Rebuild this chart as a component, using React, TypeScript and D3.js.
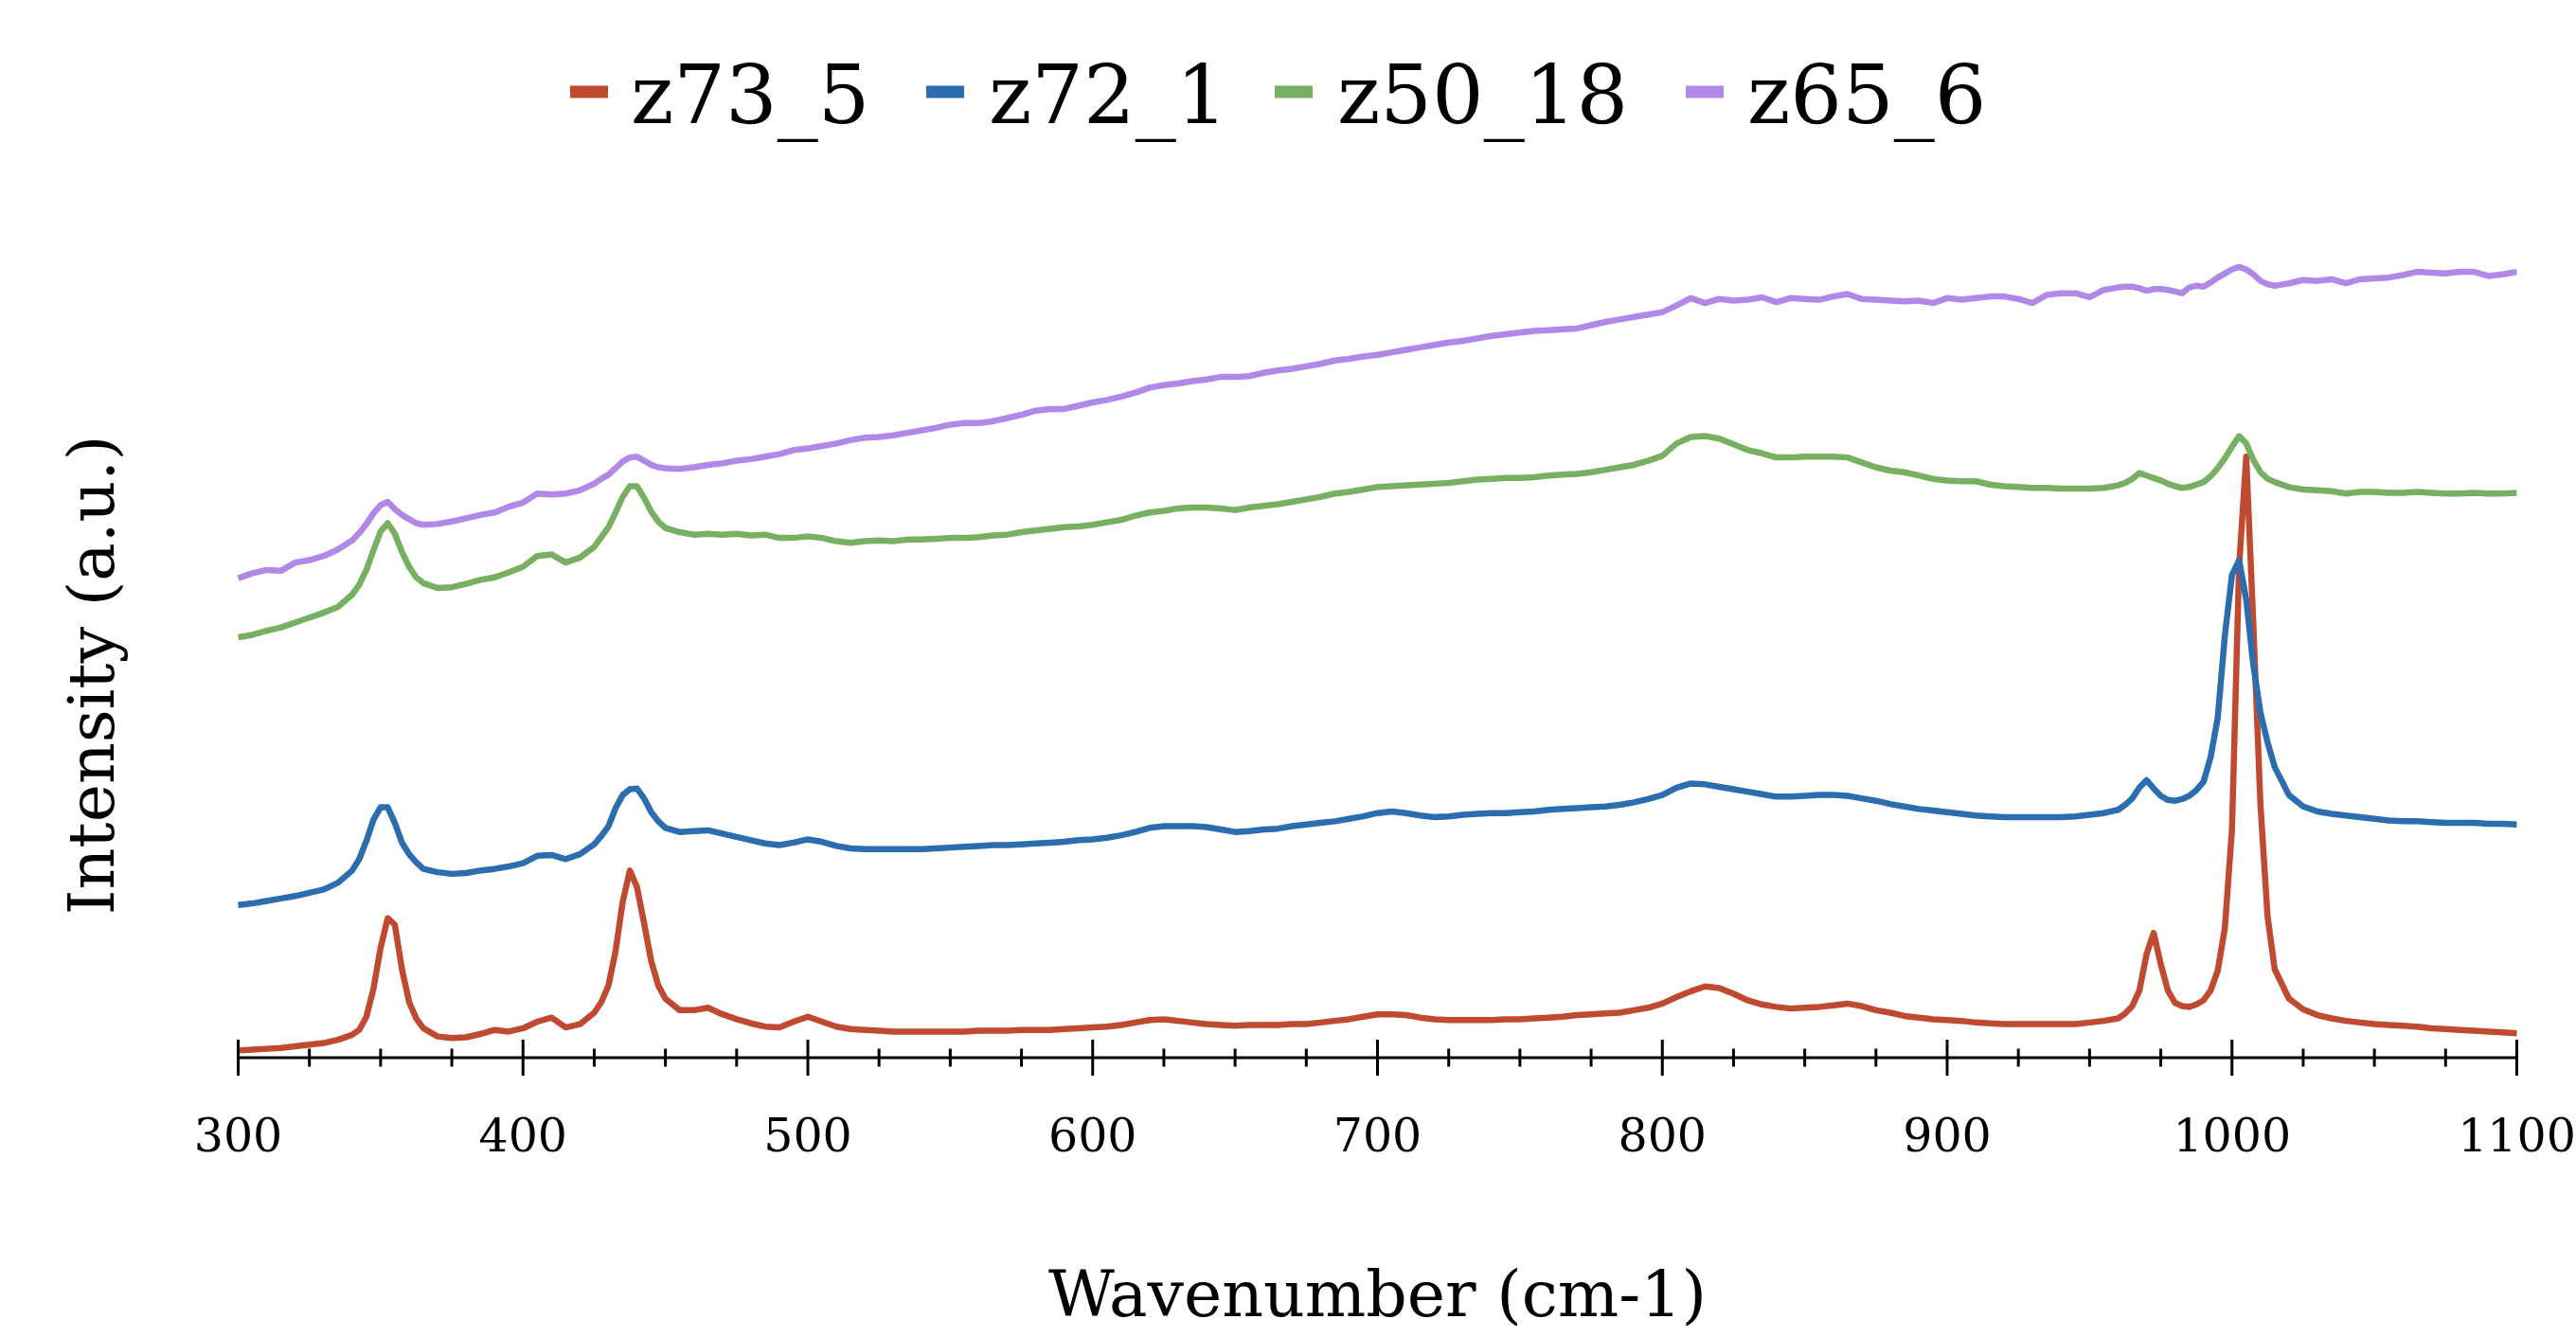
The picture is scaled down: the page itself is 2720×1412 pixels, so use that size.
import React from "react";
import * as d3 from "d3";

type Pt = [number, number];

const seriesNames = ["z73_5", "z72_1", "z50_18", "z65_6"];
const seriesColors = ["#BF4A30", "#2B6DAE", "#78B061", "#B089E8"];

const xDomain: [number, number] = [300, 1100];
const majorTicks = [300, 400, 500, 600, 700, 800, 900, 1000, 1100];
const minorStep = 25;

const xTitle = "Wavenumber (cm-1)";
const yTitle = "Intensity (a.u.)";

const z73_5: Pt[] = [[300,5.5],[305,6],[310,6.5],[315,7],[320,8],[325,9],[330,10],[335,12],[340,15],[342.5,18],[345,26],[347.5,43],[350,68],[352.5,86],[355,82],[357.5,55],[360,35],[362.5,25],[365,19],[370,14],[375,13],[380,13.5],[385,15.5],[390,18],[395,17],[400,19],[405,23],[410,25.5],[415,19.5],[420,21.5],[425,28.5],[427.5,35],[430,45],[432.5,66],[435,96],[437.5,115],[440,105],[442.5,83],[445,60],[447.5,45],[450,37],[455,30],[460,30],[465,31.5],[470,27.5],[475,24.5],[480,22],[485,20],[490,19.5],[495,23],[500,26],[505,23],[510,20],[515,18.5],[520,18],[525,17.5],[530,17],[535,17],[540,17],[545,17],[550,17],[555,17],[560,17.5],[565,17.5],[570,17.5],[575,18],[580,18],[585,18],[590,18.5],[595,19],[600,19.5],[605,20],[610,21],[615,22.5],[620,24],[625,24.5],[630,23.5],[635,22.5],[640,21.5],[645,21],[650,20.5],[655,21],[660,21],[665,21],[670,21.5],[675,21.5],[680,22.5],[685,23.5],[690,24.5],[695,26],[700,27.5],[705,27.5],[710,27],[715,25.5],[720,24.5],[725,24],[730,24],[735,24],[740,24],[745,24.5],[750,24.5],[755,25],[760,25.5],[765,26],[770,27],[775,27.5],[780,28],[785,28.5],[790,30],[795,31.5],[800,34],[805,38],[810,41.5],[815,44.5],[820,43.5],[825,40],[830,36],[835,33.5],[840,32],[845,31],[850,31.5],[855,32],[860,33],[865,34],[870,32.5],[875,30],[880,28.5],[885,26.5],[890,25.5],[895,24.5],[900,24],[905,23.5],[910,22.5],[915,22],[920,21.5],[925,21.5],[930,21.5],[935,21.5],[940,21.5],[945,21.5],[950,22.5],[955,23.5],[960,25],[962.5,28],[965,32.5],[967.5,42],[970,64],[972.5,77],[975,58],[977.5,42],[980,34.5],[982.5,32.5],[985,32],[987.5,33.5],[990,36],[992.5,42],[995,54],[997.5,80],[1000,140],[1002.5,300],[1005,367],[1007.5,265],[1010,155],[1012.5,87],[1015,55],[1020,37],[1025,30.5],[1030,27],[1035,25],[1040,23.5],[1045,22.5],[1050,21.5],[1055,21],[1060,20.5],[1065,20],[1070,19],[1075,18.5],[1080,18],[1085,17.5],[1090,17],[1095,16.5],[1100,16]];

const z72_1: Pt[] = [[300,94],[305,95],[310,96.5],[315,98],[320,99.5],[325,101.5],[330,103.5],[335,107.5],[340,115],[342.5,122],[345,133],[347.5,146],[350,153.5],[352.5,153.5],[355,144],[357.5,132],[360,125],[362.5,120],[365,116],[370,114],[375,113],[380,113.5],[385,115],[390,116],[395,117.5],[400,119.5],[405,124],[410,124.5],[415,122],[420,125],[425,131],[427.5,136],[430,142],[432.5,153],[435,161],[437.5,164.5],[440,165],[442.5,159],[445,150.5],[447.5,145],[450,141],[455,138.5],[460,139],[465,139.5],[470,137.5],[475,135.5],[480,133.5],[485,131.5],[490,130.5],[495,132],[500,134],[505,132.5],[510,130],[515,128.5],[520,128],[525,128],[530,128],[535,128],[540,128],[545,128.5],[550,129],[555,129.5],[560,130],[565,130.5],[570,130.5],[575,131],[580,131.5],[585,132],[590,132.5],[595,133.5],[600,134],[605,135],[610,136.5],[615,138.5],[620,141],[625,142],[630,142],[635,142],[640,141.5],[645,140],[650,138.5],[655,139],[660,140],[665,140.5],[670,142],[675,143],[680,144],[685,145],[690,146.5],[695,148],[700,150],[705,151],[710,150],[715,148.5],[720,147.5],[725,148],[730,149],[735,149.5],[740,150],[745,150],[750,150.5],[755,151],[760,152],[765,152.5],[770,153],[775,153.5],[780,154],[785,155],[790,156.5],[795,158.5],[800,161],[805,165.5],[810,168],[815,167.5],[820,166],[825,164.5],[830,163],[835,161.5],[840,160],[845,160],[850,160.5],[855,161],[860,161],[865,160.5],[870,159],[875,157.5],[880,155.5],[885,154],[890,152.5],[895,151.5],[900,150.5],[905,149.5],[910,148.5],[915,148],[920,147.5],[925,147.5],[930,147.5],[935,147.5],[940,147.5],[945,148],[950,149],[955,150],[960,152],[962.5,155],[965,159],[967.5,165.5],[970,170],[972.5,165],[975,160.5],[977.5,158],[980,157.5],[982.5,158.5],[985,160.5],[987.5,164],[990,169],[992.5,184],[995,208],[997.5,258],[1000,295],[1002.5,304],[1005,280],[1007.5,240],[1010,211],[1012.5,193],[1015,178],[1020,161],[1025,154],[1030,151],[1035,149.5],[1040,148.5],[1045,147.5],[1050,146.5],[1055,145.5],[1060,145],[1065,145],[1070,144.5],[1075,144],[1080,144],[1085,144],[1090,143.5],[1095,143.5],[1100,143]];

const z50_18: Pt[] = [[300,257],[305,258.5],[310,261],[315,263],[320,266],[325,269],[330,272],[335,275.5],[340,283],[342.5,289],[345,298],[347.5,310],[350,321.5],[352.5,326.5],[355,320],[357.5,309],[360,300],[362.5,293.5],[365,290],[370,287],[375,287.5],[380,289.5],[385,292],[390,293.5],[395,296.5],[400,300],[405,306.5],[410,307.5],[415,302.5],[420,305.5],[425,312],[427.5,318],[430,324],[432.5,333],[435,342.5],[437.5,349],[440,349],[442.5,342],[445,333.5],[447.5,327.5],[450,323.5],[455,321],[460,319.5],[465,320],[470,319.5],[475,320],[480,319],[485,319.5],[490,317.5],[495,317.5],[500,318.5],[505,317.5],[510,315.5],[515,314.5],[520,315.5],[525,316],[530,315.5],[535,316.5],[540,316.5],[545,317],[550,317.5],[555,317.5],[560,318],[565,319],[570,319.5],[575,321],[580,322],[585,323],[590,324],[595,324.5],[600,325.5],[605,327],[610,328.5],[615,331],[620,333],[625,334],[630,335.5],[635,336],[640,336],[645,335.5],[650,334.5],[655,336],[660,337],[665,338],[670,339.5],[675,341],[680,342.5],[685,344.5],[690,345.5],[695,347],[700,348.5],[705,349],[710,349.5],[715,350],[720,350.5],[725,351],[730,352],[735,353],[740,353.5],[745,354],[750,354],[755,354.5],[760,355.5],[765,356],[770,356.5],[775,357.5],[780,359],[785,360.5],[790,362],[795,364.5],[800,367.5],[805,375],[810,379],[815,379.5],[820,378],[825,374.5],[830,371],[835,369],[840,366.5],[845,366.5],[850,367],[855,367],[860,367],[865,366.5],[870,363.5],[875,360.5],[880,358.5],[885,357.5],[890,355.5],[895,353.5],[900,352.5],[905,352],[910,352],[915,350],[920,349],[925,348.5],[930,348],[935,348],[940,347.5],[945,347.5],[950,347.5],[955,348],[960,349.5],[962.5,351],[965,353.5],[967.5,357],[970,355.5],[972.5,354],[975,352.5],[977.5,350.5],[980,349],[982.5,348],[985,348.5],[987.5,350],[990,351.5],[992.5,355],[995,360],[997.5,366],[1000,373],[1002.5,379.5],[1005,375],[1007.5,365],[1010,357.5],[1012.5,353.5],[1015,351.5],[1020,348.5],[1025,347],[1030,346.5],[1035,346],[1040,344.5],[1045,345.5],[1050,345.5],[1055,345],[1060,345],[1065,345.5],[1070,345],[1075,344.5],[1080,344.5],[1085,345],[1090,344.5],[1095,344.5],[1100,345]];

const z65_6: Pt[] = [[300,293],[305,296],[310,298],[315,297.5],[320,302.5],[325,304],[330,306.5],[335,310.5],[340,316],[342.5,320.5],[345,326],[347.5,332.5],[350,337.5],[352.5,339.5],[355,335],[357.5,331.5],[360,329],[362.5,326.5],[365,325.5],[370,326],[375,327.5],[380,329.5],[385,331.5],[390,333],[395,336.5],[400,339],[405,344.5],[410,344],[415,344.5],[420,346.5],[425,350.5],[427.5,353.5],[430,356],[432.5,360],[435,364],[437.5,366.5],[440,367],[442.5,364.5],[445,362],[447.5,360.5],[450,360],[455,359.5],[460,360.5],[465,362],[470,363],[475,364.5],[480,365.5],[485,367],[490,368.5],[495,371],[500,372],[505,373.5],[510,375],[515,377],[520,378.5],[525,379],[530,380],[535,381.5],[540,383],[545,384.5],[550,386.5],[555,387.5],[560,387.5],[565,388.5],[570,390.5],[575,392.5],[580,395],[585,396],[590,396],[595,398],[600,400],[605,401.5],[610,403.5],[615,406],[620,409],[625,410.5],[630,411.5],[635,413],[640,414],[645,415.5],[650,415.5],[655,416],[660,418],[665,419.5],[670,420.5],[675,422],[680,423.5],[685,425.5],[690,426.5],[695,428],[700,429],[705,430.5],[710,432],[715,433.5],[720,435],[725,436.5],[730,437.5],[735,439],[740,440.5],[745,441.5],[750,442.5],[755,443.5],[760,444],[765,444.5],[770,445],[775,447],[780,449],[785,450.5],[790,452],[795,453.5],[800,455],[805,459],[810,463.5],[815,460.5],[820,463],[825,462],[830,462.5],[835,464],[840,461],[845,463.5],[850,463],[855,462.5],[860,464.5],[865,466],[870,463],[875,462.5],[880,462],[885,461.5],[890,462],[895,460.5],[900,463.5],[905,462.5],[910,463.5],[915,464.5],[920,464.5],[925,463],[930,460.5],[935,465.5],[940,466.5],[945,466.5],[950,464],[955,468.5],[960,470],[962.5,470.5],[965,470.5],[967.5,469.5],[970,468],[972.5,469],[975,469],[977.5,468.5],[980,467.5],[982.5,466.5],[985,470],[987.5,471],[990,470.5],[992.5,473],[995,476],[997.5,478.5],[1000,481],[1002.5,482.5],[1005,481],[1007.5,478],[1010,474],[1012.5,472],[1015,471],[1020,472.5],[1025,474.5],[1030,474],[1035,475],[1040,472.5],[1045,475],[1050,475.5],[1055,476],[1060,477.5],[1065,479.5],[1070,479],[1075,478.5],[1080,479.5],[1085,479.5],[1090,477],[1095,478],[1100,479.5]];

const seriesData: Pt[][] = [z73_5, z72_1, z50_18, z65_6];

export default function App() {
  const W = 2720;
  const H = 1412;
  const plotLeft = 251.5;
  const plotRight = 2657.5;
  const axisY = 1117;

  const x = d3.scaleLinear().domain(xDomain).range([plotLeft, plotRight]);
  const y = d3.scaleLinear().domain([0, 645]).range([1118.9, 0]);
  const line = d3
    .line<Pt>()
    .x((d) => x(d[0]))
    .y((d) => y(d[1]));

  const minorTicks = d3
    .range(xDomain[0], xDomain[1] + 1, minorStep)
    .filter((v) => !majorTicks.includes(v));

  const font = "'DejaVu Serif', Georgia, serif";

  const legendMarkerX = [602, 978, 1346, 1780];
  const legendTextX = [666, 1044, 1412, 1845];

  return (
    <svg
      width={W}
      height={H}
      viewBox={`0 0 ${W} ${H}`}
      style={{ position: "absolute", left: 0, top: 0, background: "#fff" }}
    >
      <rect x={0} y={0} width={W} height={H} fill="#fff" />

      {/* Legend */}
      {seriesNames.map((name, i) => (
        <g key={name}>
          <rect
            x={legendMarkerX[i]}
            y={90.5}
            width={40}
            height={13}
            fill={seriesColors[i]}
          />
          <text
            x={legendTextX[i]}
            y={130}
            fontFamily={font}
            fontSize={86}
            fill="#000"
          >
            {name}
          </text>
        </g>
      ))}

      {/* Series */}
      {seriesData.map((d, i) => (
        <path
          key={seriesNames[i]}
          d={line(d) || ""}
          fill="none"
          stroke={seriesColors[i]}
          strokeWidth={6.5}
          strokeLinejoin="round"
        />
      ))}

      {/* X axis */}
      <line
        x1={x(xDomain[0])}
        x2={x(xDomain[1])}
        y1={axisY}
        y2={axisY}
        stroke="#000"
        strokeWidth={3.2}
      />
      {majorTicks.map((t) => (
        <line
          key={"M" + t}
          x1={x(t)}
          x2={x(t)}
          y1={axisY - 19}
          y2={axisY + 19}
          stroke="#000"
          strokeWidth={3}
        />
      ))}
      {minorTicks.map((t) => (
        <line
          key={"m" + t}
          x1={x(t)}
          x2={x(t)}
          y1={axisY - 9.5}
          y2={axisY + 9.5}
          stroke="#000"
          strokeWidth={3}
        />
      ))}
      {majorTicks.map((t) => (
        <text
          key={"L" + t}
          x={x(t)}
          y={1216}
          textAnchor="middle"
          fontFamily={font}
          fontSize={49}
          fill="#000"
        >
          {t}
        </text>
      ))}

      {/* Axis titles */}
      <text
        x={(plotLeft + plotRight) / 2}
        y={1390}
        textAnchor="middle"
        fontFamily={font}
        fontSize={68}
        fill="#000"
      >
        {xTitle}
      </text>
      <text
        transform={`translate(120, 713) rotate(-90)`}
        textAnchor="middle"
        fontFamily={font}
        fontSize={68}
        fill="#000"
      >
        {yTitle}
      </text>
    </svg>
  );
}
